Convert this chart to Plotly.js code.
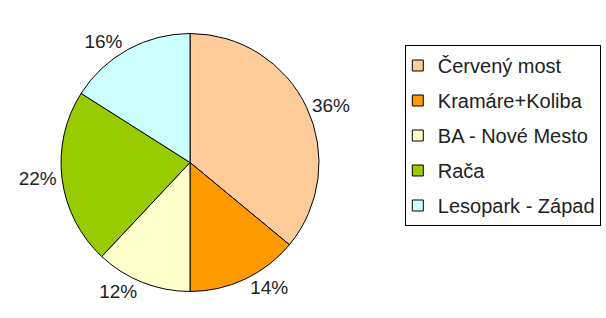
<!DOCTYPE html>
<html>
<head>
<meta charset="utf-8">
<script src="https://cdn.plot.ly/plotly-3.0.1.min.js"></script>
<style>html,body{margin:0;padding:0;background:#fff;}#chart{width:606px;height:318px;}</style>
</head>
<body>
<div id="chart"></div>
<script>
const categories = ["Červený most", "Kramáre+Koliba", "BA - Nové Mesto", "Rača", "Lesopark - Západ"];
const values = [36, 14, 12, 22, 16];
const colors = ["#FFCC99", "#FF9900", "#FFFFCC", "#99CC00", "#CCFFFF"];

const FONT = "Liberation Sans, Arial, sans-serif";

const pie = {
  type: "pie",
  labels: categories,
  values: values,
  sort: false,
  direction: "clockwise",
  rotation: 0,
  textinfo: "percent",
  textposition: "outside",
  texttemplate: "%{percent:.0%}",
  outsidetextfont: {family: FONT, size: 19, color: "#222"},
  marker: {colors: colors, line: {color: "#000", width: 1}},
  domain: {x: [0.1007, 0.5264], y: [0.0818, 0.8962]},
  showlegend: false,
  hoverinfo: "none"
};

// legend entries, one per category (no visible points)
const legendTraces = categories.map((name, i) => ({
  type: "scatter",
  mode: "markers",
  x: [null],
  y: [null],
  name: name,
  legendgroup: "g" + i,
  showlegend: true,
  marker: {symbol: "square", size: 11, color: colors[i], line: {color: "#000", width: 1}},
  hoverinfo: "none"
}));

const layout = {
  width: 606,
  height: 318,
  margin: {l: 0, r: 0, t: 0, b: 0},
  paper_bgcolor: "#fff",
  plot_bgcolor: "rgba(0,0,0,0)",
  xaxis: {visible: false},
  yaxis: {visible: false},
  showlegend: true,
  legend: {
    x: 0.668, xanchor: "left",
    y: 0.8585, yanchor: "top",
    bordercolor: "#000", borderwidth: 1,
    bgcolor: "#fff",
    indentation: -8,
    tracegroupgap: 6,
    traceorder: "grouped",
    font: {family: FONT, size: 20, color: "#222"}
  }
};

Plotly.newPlot("chart", [pie].concat(legendTraces), layout, {displayModeBar: false, staticPlot: true});
</script>
</body>
</html>
